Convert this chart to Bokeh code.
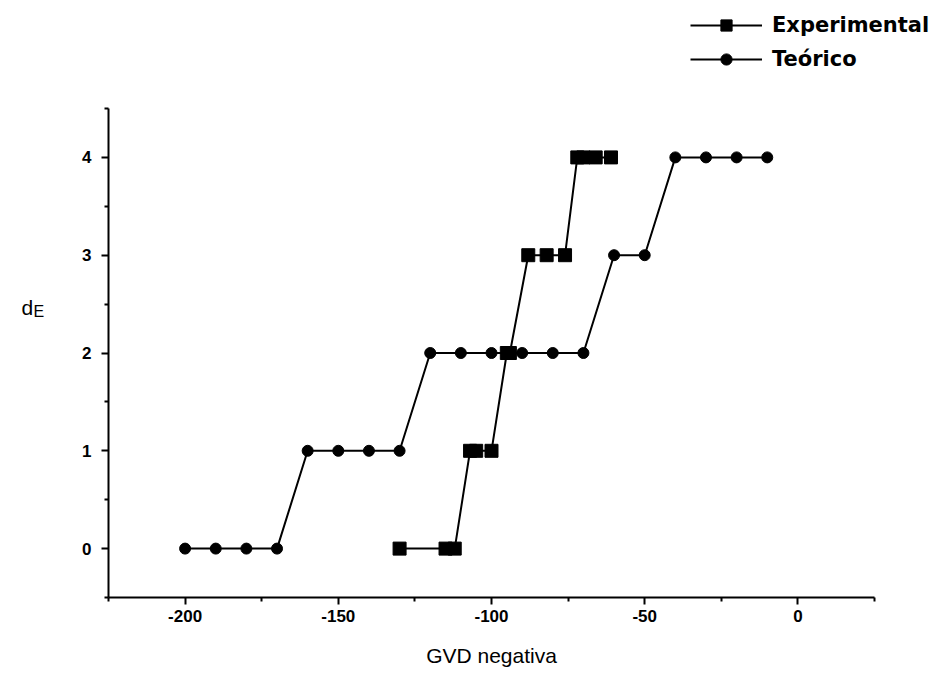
from bokeh.plotting import figure
from bokeh.models import Range1d, FixedTicker, Legend, LegendItem, Label
from bokeh.embed import file_html
from bokeh.resources import INLINE

# Measured steps (squares) and theoretical steps (circles)
exp_gvd = [-130, -115, -112, -107, -105, -100, -95, -94, -88, -82, -76, -72, -70, -66, -61]
exp_de = [0, 0, 0, 1, 1, 1, 2, 2, 3, 3, 3, 4, 4, 4, 4]

teo_gvd = [-200, -190, -180, -170, -160, -150, -140, -130, -120, -110,
           -100, -90, -80, -70, -60, -50, -40, -30, -20, -10]
teo_de = [0, 0, 0, 0, 1, 1, 1, 1, 2, 2, 2, 2, 2, 2, 3, 3, 4, 4, 4, 4]

x_ticks = [-200, -150, -100, -50, 0]
x_labels = ["-200", "-150", "-100", "-50", "0"]
x_minor = [-225, -175, -125, -75, -25, 25]
y_ticks = [0, 1, 2, 3, 4]
y_minor = [-0.5, 0.5, 1.5, 2.5, 3.5, 4.5]
x_lim = (-225, 25)
y_lim = (-0.5, 4.5)

# Canvas geometry: the drawing area spans the whole canvas, the axes sit at
# fixed data locations so that the legend and the y title stay unclipped.
W, H = 940, 680
AX_L, AX_R, AX_T, AX_B = 108, 874, 108, 597
kx = (AX_R - AX_L) / (x_lim[1] - x_lim[0])
ky = (AX_B - AX_T) / (y_lim[1] - y_lim[0])

p = figure(frame_width=W, frame_height=H, title=None,
           x_range=Range1d(x_lim[0] - AX_L / kx, x_lim[1] + (W - AX_R) / kx),
           y_range=Range1d(y_lim[0] - (H - AX_B) / ky, y_lim[1] + AX_T / ky),
           output_backend="svg", toolbar_location=None, min_border=0)
p.outline_line_color = None
p.grid.visible = False
p.background_fill_color = "white"
p.border_fill_color = "white"

p.xaxis.fixed_location = y_lim[0]
p.yaxis.fixed_location = x_lim[0]
p.xaxis.bounds = x_lim
p.yaxis.bounds = y_lim
p.xaxis.ticker = FixedTicker(ticks=x_ticks, minor_ticks=x_minor)
p.yaxis.ticker = FixedTicker(ticks=y_ticks, minor_ticks=y_minor)
p.xaxis.major_label_overrides = {t: s for t, s in zip(x_ticks, x_labels)}

for ax in (p.xaxis[0], p.yaxis[0]):
    ax.axis_line_width = 2
    ax.axis_line_color = "black"
    ax.major_tick_line_width = 2
    ax.minor_tick_line_width = 2
    ax.major_tick_line_color = "black"
    ax.minor_tick_line_color = "black"
    ax.major_tick_out = 7
    ax.major_tick_in = 0
    ax.minor_tick_out = 4
    ax.minor_tick_in = 0
    ax.major_label_text_font = "Liberation Sans"
    ax.major_label_text_font_style = "bold"
    ax.major_label_text_font_size = "17px"
    ax.major_label_text_color = "black"

p.xaxis.major_label_standoff = 5
p.yaxis.major_label_standoff = 10
p.xaxis.axis_label = "GVD negativa"
p.xaxis.axis_label_text_font = "Liberation Sans"
p.xaxis.axis_label_text_font_style = "normal"
p.xaxis.axis_label_text_font_size = "21px"
p.xaxis.axis_label_text_color = "black"
p.xaxis.axis_label_standoff = 19

l1 = p.line(exp_gvd, exp_de, line_color="black", line_width=2)
s1 = p.scatter(exp_gvd, exp_de, marker="square", size=13, fill_color="black", line_color="black")
l2 = p.line(teo_gvd, teo_de, line_color="black", line_width=2)
s2 = p.scatter(teo_gvd, teo_de, marker="circle", size=11, fill_color="black", line_color="black")

# y title d_E: letter plus subscript, left of the y axis
p.add_layout(Label(x=x_lim[0], y=2.5, x_offset=-87, y_offset=-3, text="d",
                   text_font="Liberation Sans", text_font_size="21px",
                   text_baseline="alphabetic", text_color="black"))
p.add_layout(Label(x=x_lim[0], y=2.5, x_offset=-75, y_offset=-7, text="E",
                   text_font="Liberation Sans", text_font_size="16px",
                   text_baseline="alphabetic", text_color="black"))

legend = Legend(items=[LegendItem(label="Experimental", renderers=[l1, s1]),
                       LegendItem(label="Teórico", renderers=[l2, s2])],
                location=(690, H - 73), glyph_width=72, glyph_height=28,
                label_height=28, label_standoff=10, spacing=6, padding=0,
                margin=0, border_line_color=None, background_fill_alpha=0,
                label_text_font="DejaVu Sans", label_text_font_style="bold",
                label_text_font_size="21px", label_text_color="black")
p.add_layout(legend)

open("out.html", "w").write(file_html(p, INLINE))
